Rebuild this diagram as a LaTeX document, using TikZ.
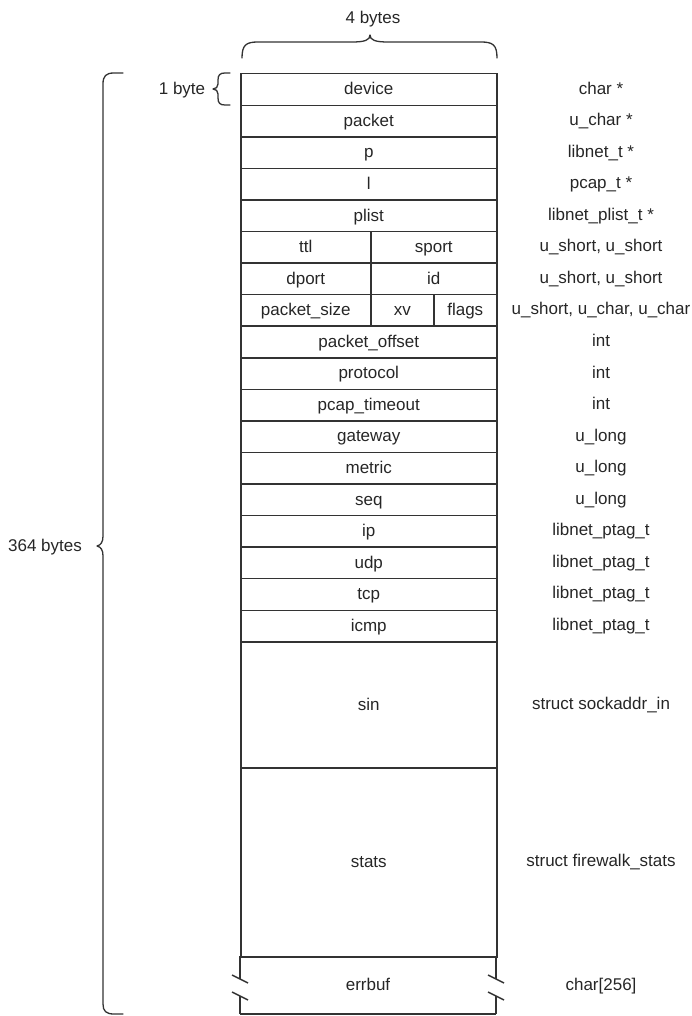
\documentclass[tikz,border=0pt]{standalone}
\usepackage{fontspec}
\setmainfont{Liberation Sans}
\newcommand\lblfont{\fontsize{17}{20}\selectfont}
\begin{document}
\begin{tikzpicture}[x=1pt,y=-1pt,
  ln/.style={draw=black!80, line width=1.5pt},
  cell/.style={ln, minimum width=#1, minimum height=31.56pt, inner sep=0pt, anchor=north west, font=\lblfont, text=black!85, text height=13pt, text depth=2.5pt},
  lbl/.style={inner sep=0pt, font=\lblfont, text=black!85, text height=13pt, text depth=2.5pt},
  brace/.style={draw=black!80, line width=1.3pt, line cap=round, line join=round}]
\useasboundingbox (0,0) rectangle (692,1016);
% full-width rows
\foreach \i/\lab/\typ in {0/device/char *, 1/packet/u\_char *, 2/p/libnet\_t *, 3/l/pcap\_t *, 4/plist/libnet\_plist\_t *,
  8/packet\_offset/int, 9/protocol/int, 10/pcap\_timeout/int, 11/gateway/u\_long, 12/metric/u\_long, 13/seq/u\_long,
  14/ip/libnet\_ptag\_t, 15/udp/libnet\_ptag\_t, 16/tcp/libnet\_ptag\_t, 17/icmp/libnet\_ptag\_t}{
  \node[cell=256pt] (r\i) at (240,{73+31.56*\i}) {\lab};
  \node[lbl] (t\i) at (601,{73+31.56*\i+15.78}) {\typ};
}
% split rows
\node[cell=130pt] (ttl) at (240,{73+31.56*5}) {ttl};
\node[cell=126pt] (sport) at (370,{73+31.56*5}) {sport};
\node[lbl] (t5) at (601,{73+31.56*5+15.78}) {u\_short, u\_short};
\node[cell=130pt] (dport) at (240,{73+31.56*6}) {dport};
\node[cell=126pt] (id) at (370,{73+31.56*6}) {id};
\node[lbl] (t6) at (601,{73+31.56*6+15.78}) {u\_short, u\_short};
\node[cell=130pt] (psize) at (240,{73+31.56*7}) {packet\_size};
\node[cell=63pt] (xv) at (370,{73+31.56*7}) {xv};
\node[cell=63pt] (flags) at (433,{73+31.56*7}) {flags};
\node[lbl] (t7) at (601,{73+31.56*7+15.78}) {u\_short, u\_char, u\_char};
% big rows
\node[cell=256pt, minimum height=126pt] (sin) at (240,641) {sin};
\node[lbl] (tsin) at (601,704) {struct sockaddr\_in};
\node[cell=256pt, minimum height=189pt] (stats) at (240,767) {stats};
\node[lbl] (tstats) at (601,861.5) {struct firewalk\_stats};
% errbuf with break marks
\node[lbl] (errbuf) at (368,985) {errbuf};
\node[lbl] (terr) at (601,985) {char[256]};
\draw[ln] (240,956) -- (240,979);
\draw[ln] (240,996) -- (240,1014);
\draw[ln] (496,956) -- (496,979);
\draw[ln] (496,996) -- (496,1014);
\draw[ln] (240,1014) -- (496,1014);
\draw[ln] (232,975) -- (248,983);
\draw[ln] (232,992) -- (248,1000);
\draw[ln] (488,975) -- (504,983);
\draw[ln] (488,992) -- (504,1000);
% top brace
\draw[brace] (242,58) .. controls (242,45) and (246,42) .. (258,42) -- (352,42)
  .. controls (365,42) and (370,40) .. (370,35) .. controls (370,40) and (375,42) .. (388,42)
  -- (481,42) .. controls (493,42) and (497,45) .. (497,58);
\node[lbl] (four) at (373,18) {4 bytes};
% 1 byte brace
\draw[brace] (230,73) -- (225,73) .. controls (220,73) and (218,75) .. (218,80) -- (218,84)
  .. controls (218,87) and (216,89) .. (213,89) .. controls (216,89) and (218,91) .. (218,94)
  -- (218,98) .. controls (218,103) and (220,105) .. (225,105) -- (230,105);
\node[lbl] (onebyte) at (182,89) {1 byte};
% big brace
\draw[brace] (123,73) -- (114,73) .. controls (106,73) and (103,76) .. (103,84) -- (103,536)
  .. controls (103,542) and (101,545) .. (97,546) .. controls (101,547) and (103,550) .. (103,556)
  -- (103,1004) .. controls (103,1011) and (106,1014) .. (114,1014) -- (123,1014);
\node[lbl] (total) at (45,546) {364 bytes};
\end{tikzpicture}
\end{document}
